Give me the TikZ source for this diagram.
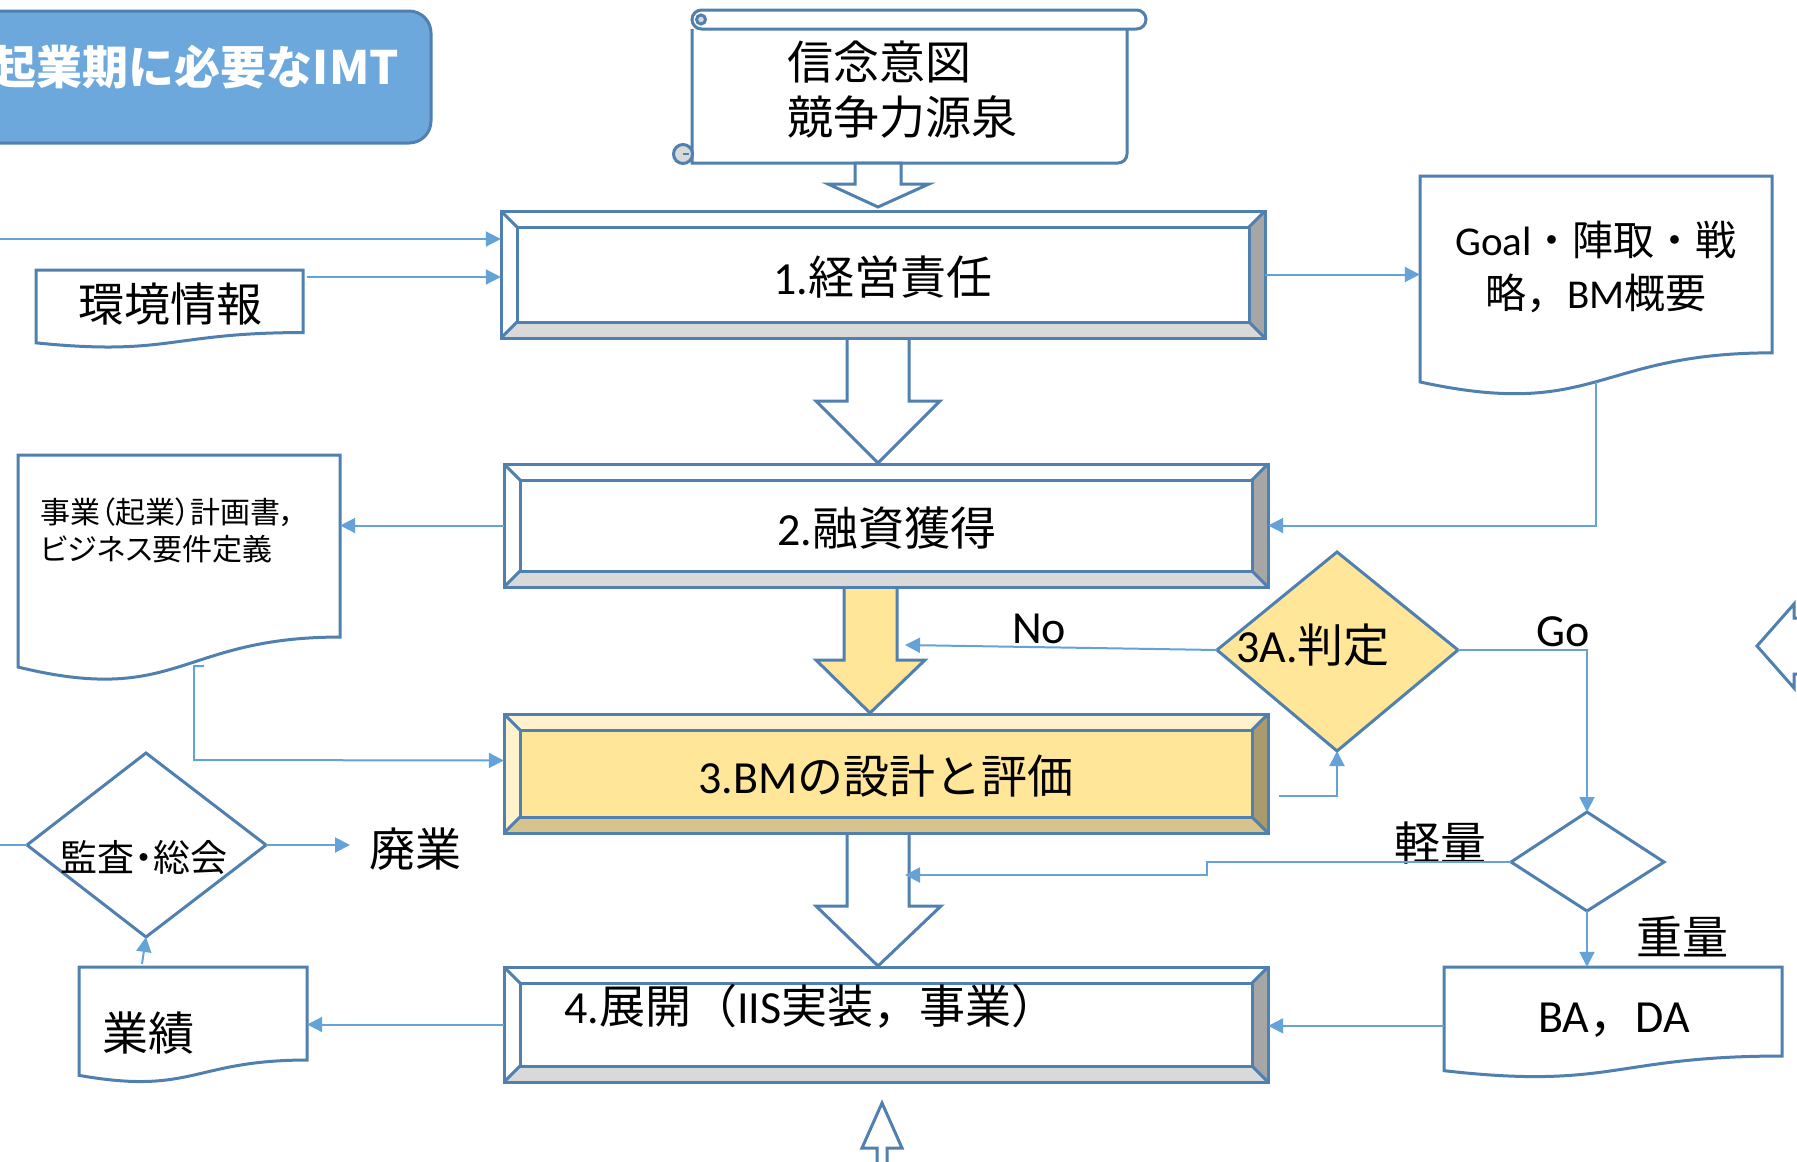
\documentclass[tikz,border=0pt]{standalone}
\usepackage{fontspec}
\setmainfont{Noto Sans CJK JP}
\newfontfamily\lat{Carlito}
\newfontfamily\pfont{Noto Sans CJK JP}[RawFeature=+palt]
\usetikzlibrary{arrows.meta,fit}
\definecolor{shp}{HTML}{5080B0}
\definecolor{con}{HTML}{64A2D8}
\definecolor{ttl}{HTML}{6CA8DB}
\definecolor{ylw}{HTML}{FFE699}
\definecolor{ylwlt}{HTML}{FFF2CC}
\definecolor{ylwbot}{HTML}{D7C48C}
\definecolor{ylwrt}{HTML}{A99B6E}
\definecolor{gbot}{HTML}{D9D9D9}
\definecolor{grt}{HTML}{A6A6A6}
\tikzset{
  shapeline/.style={draw=shp, line width=3pt, line join=miter},
  conn/.style={draw=con, line width=2pt},
  arr/.style={conn, -{Triangle[length=15pt,width=15pt]}},
  lbl/.style={inner sep=0pt, font=\fontsize{46}{55}\selectfont},
  midlbl/.style={inner sep=0pt, font=\fontsize{41}{53}\selectfont},
  smalllbl/.style={inner sep=0pt, font=\pfont\fontsize{30}{37}\selectfont},
  blockarrow/.style={shapeline, fill=white},
}
% bevel box: name, x1, y1, x2, y2, face, top/left, bottom, right
\newcommand\bevbox[9]{%
  \fill[#7] (#2,#3) rectangle (#4,#5);
  \fill[#8] (#2,#5) -- (#4,#5) -- ({#4-16},{#5-16}) -- ({#2+16},{#5-16}) -- cycle;
  \fill[#9] (#4,#3) -- (#4,#5) -- ({#4-16},{#5-16}) -- ({#4-16},{#3+16}) -- cycle;
  \draw[shapeline, fill=#6] ({#2+16},{#3+16}) rectangle ({#4-16},{#5-16});
  \draw[shapeline] (#2,#3) -- ({#2+16},{#3+16}) (#4,#3) -- ({#4-16},{#3+16})
     (#2,#5) -- ({#2+16},{#5-16}) (#4,#5) -- ({#4-16},{#5-16});
  \draw[shapeline] (#2,#3) rectangle (#4,#5);
  \path (#2,#3) coordinate (#1-nw) (#4,#5) coordinate (#1-se);
  \node[fit=(#1-nw)(#1-se), inner sep=0pt] (#1) {};
}
% document shape: name, x1, top, x2, H
\newcommand\docshape[5]{%
  \draw[shapeline, fill=white] (#2,#3) -- (#4,#3) -- (#4,{#3+0.802*#5})
    .. controls ({(#2+#4)/2},{#3+0.802*#5}) and ({(#2+#4)/2},{#3+1.1075*#5}) .. (#2,{#3+0.934*#5}) -- cycle;
  \path (#2,#3) coordinate (#1-nw) (#4,{#3+0.934*#5}) coordinate (#1-se);
  \node[fit=(#1-nw)(#1-se), inner sep=0pt] (#1) {};
}
\begin{document}
\begin{tikzpicture}[x=1pt,y=-1pt]
\useasboundingbox (0,0) rectangle (1797,1162);
\clip (0,0) rectangle (1797,1162);

% title
\draw[fill=ttl, draw=shp, line width=3pt, rounded corners=22] (-40,11) rectangle (431,143);
\node[lbl, anchor=east, text=white, font=\fontsize{46}{55}\selectfont\bfseries] (title) at (399,67) {起業期に必要なIMT};

% scroll
\draw[shapeline, fill=white] (692,29) -- (692,163) [rounded corners=9] -- (1127,163) -- (1127,25);
\draw[shapeline, fill=white, rounded corners=9.5] (692,10) rectangle (1146,29);
\draw[shapeline, fill=gbot] (701,19.5) circle (4.5);
\draw[shapeline, fill=gbot] (683,154) circle (9.5);
\draw[draw=shp, line width=2pt] (683,154) -- (689,154);
\node[lbl, anchor=west, align=left] (belief) at (787,90) {信念意図\\競争力源泉};

% block arrows
\draw[blockarrow] (855,163) -- (901,163) -- (901,184) -- (929,184) -- (878,207) -- (828,184) -- (855,184) -- cycle;
\draw[blockarrow] (847,338) -- (909,338) -- (909,401) -- (940,401) -- (878,463) -- (816,401) -- (847,401) -- cycle;
\draw[blockarrow, fill=ylw] (844,587) -- (897,587) -- (897,660) -- (925,660) -- (870,713) -- (816,660) -- (844,660) -- cycle;
\draw[blockarrow] (847,833) -- (909,833) -- (909,906) -- (941,906) -- (878,966) -- (816,906) -- (847,906) -- cycle;
\draw[blockarrow] (877,1175) -- (877,1148) -- (862,1148) -- (882,1103) -- (902,1148) -- (887,1148) -- (887,1175);
\draw[blockarrow] (1805,618) -- (1794,618) -- (1794,604) -- (1757,646) -- (1794,688) -- (1794,674) -- (1805,674);

% main boxes
\bevbox{box1}{501}{211}{1265}{338}{white}{white}{gbot}{grt}
\bevbox{box2}{504}{464}{1268}{587}{white}{white}{gbot}{grt}
\bevbox{box3}{504}{714}{1268}{833}{ylw}{ylwlt}{ylwbot}{ylwrt}
\bevbox{box4}{504}{967}{1268}{1082}{white}{white}{gbot}{grt}
\node[lbl] (t1) at (883,277) {{\lat 1.}経営責任};
\node[lbl] (t2) at (887,528) {{\lat 2.}融資獲得};
\node[lbl] (t3) at (886,776) {{\lat 3.BM}の設計と評価};
\node[lbl, anchor=west] (t4) at (564,1006) {{\lat 4.}展開（{\lat IIS}実装，事業）};

% documents
\docshape{env}{36}{270}{303}{78}
\node[lbl] (tenv) at (170,304) {環境情報};
\docshape{goal}{1420}{176}{1772}{220.5}
\node[midlbl, align=center] (tgoal) at (1596,267) {{\lat Goal}・陣取・戦\\略，{\lat BM}概要};
\docshape{plan}{18}{455}{340}{227}
\node[smalllbl, anchor=west, align=left] (tplan) at (40,530) {事業（起業）計画書，\\ビジネス要件定義};
\docshape{ba}{1444}{967}{1782}{111}
\node[lbl] (tba) at (1614,1020) {{\lat BA}，{\lat DA}};
\docshape{perf}{79}{967}{307}{116}
\node[lbl] (tperf) at (148,1033) {業績};

% diamonds
\path (1337,552) coordinate (d3-n) (1458,650) coordinate (d3-e) (1337,751) coordinate (d3-s) (1217,650) coordinate (d3-w);
\draw[shapeline, fill=ylw] (d3-n) -- (d3-e) -- (d3-s) -- (d3-w) -- cycle;
\node[lbl] (t3a) at (1313,645) {{\lat 3A.}判定};
\path (1587,812) coordinate (dm-n) (1664,862) coordinate (dm-e) (1587,911) coordinate (dm-s) (1511,862) coordinate (dm-w);
\draw[shapeline, fill=white] (dm-n) -- (dm-e) -- (dm-s) -- (dm-w) -- cycle;
\path (146,753) coordinate (kan-n) (266,845) coordinate (kan-e) (146,937) coordinate (kan-s) (27,845) coordinate (kan-w);
\draw[shapeline, fill=white] (kan-n) -- (kan-e) -- (kan-s) -- (kan-w) -- cycle;
\node[inner sep=0pt, font=\pfont\fontsize{37}{42}\selectfont] (tkan) at (144,857) {監査・総会};

% labels
\node[lbl] (lno) at (1039,629) {\lat No};
\node[lbl] (lgo) at (1563,632) {\lat Go};
\node[lbl] (llight) at (1440,843) {軽量};
\node[lbl] (lheavy) at (1682,937) {重量};
\node[lbl] (lhai) at (415,849) {廃業};

% connectors
\coordinate (in1) at (0,239);
\draw[arr] (in1) -- (in1 -| box1.west);
\coordinate (e1) at (307,277);
\draw[arr] (e1) -- (e1 -| box1.west);
\draw[arr] (box1.east) -- (box1.east -| goal.west);
\draw[arr] (goal.south) |- (box2.east);
\draw[arr] (box2.west) -- (box2.west -| plan.east);
\coordinate (p6) at (204,666);
\draw[arr] (p6) -- (194,666) -- (194,760) -- ([yshift=13pt]box3.west);
\coordinate (noend) at (905,645);
\draw[arr] (d3-w) -- (noend);
\draw[arr] (d3-e) -| (dm-n);
\coordinate (b3o) at (1279,796);
\draw[arr] (b3o) -| (d3-s);
\coordinate (lightend) at (905,875);
\draw[arr] (dm-w) -- (1207,862) -- (1207,875) -- (lightend);
\draw[arr] (dm-s) -- (dm-s |- ba.north);
\draw[arr] ([yshift=-7pt]ba.west) -- ([yshift=-7pt]ba.west -| box4.east);
\draw[arr] (box4.west) -- (box4.west -| perf.east);
\coordinate (pt) at (142,964);
\draw[arr] (pt) -- (kan-s);
\coordinate (kin) at (0,845);
\draw[conn] (kin) -- (kan-w);
\coordinate (haiend) at (350,845);
\draw[arr] (kan-e) -- (haiend);
\end{tikzpicture}
\end{document}
